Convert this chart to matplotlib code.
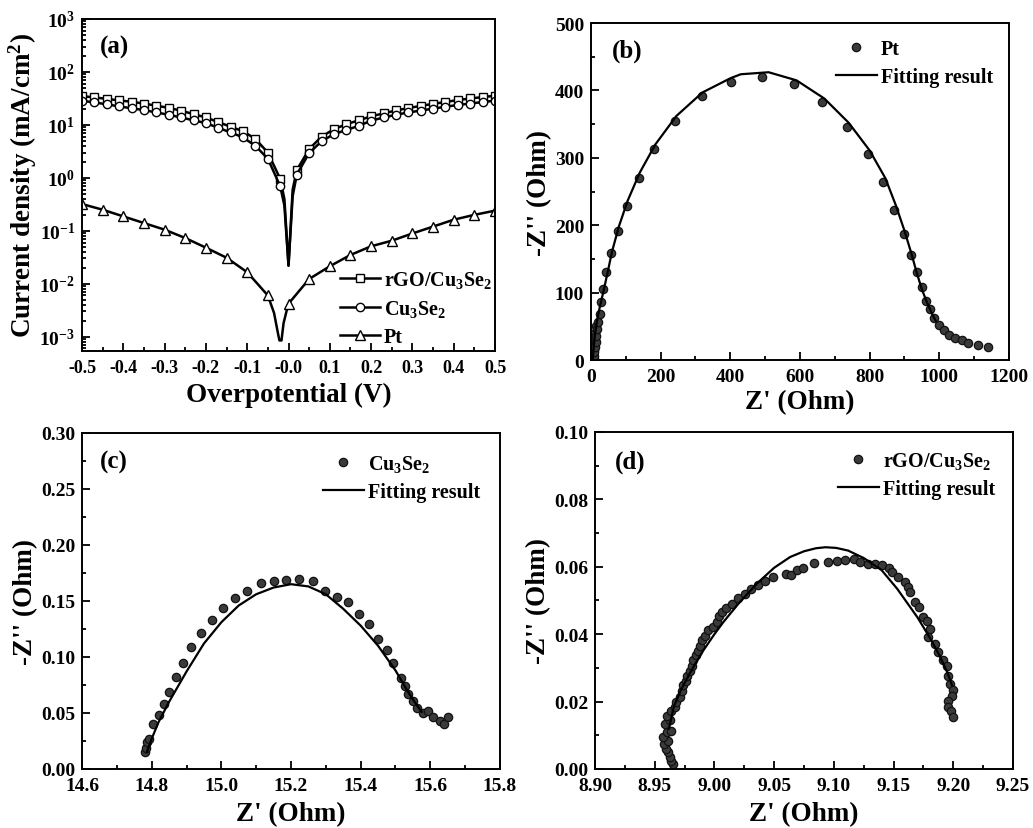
import numpy as np
import matplotlib
matplotlib.use('Agg')
import matplotlib.pyplot as plt
from matplotlib.ticker import MultipleLocator, LogLocator, NullFormatter

plt.rcParams['font.family'] = 'Liberation Serif'
plt.rcParams['font.weight'] = 'bold'
plt.rcParams['mathtext.fontset'] = 'custom'
plt.rcParams['mathtext.rm'] = 'Liberation Serif:bold'
plt.rcParams['mathtext.bf'] = 'Liberation Serif:bold'
plt.rcParams['mathtext.it'] = 'Liberation Serif:bold:italic'
plt.rcParams['axes.linewidth'] = 1.4

# ---------------- (a) Tafel curves ----------------
v_upper = [-0.50, -0.47, -0.44, -0.41, -0.38, -0.35, -0.32, -0.29, -0.26, -0.23,
           -0.20, -0.17, -0.14, -0.11, -0.08, -0.05, -0.02, -0.01, 0.0, 0.01,
           0.02, 0.05, 0.08, 0.11, 0.14, 0.17, 0.20, 0.23, 0.26, 0.29,
           0.32, 0.35, 0.38, 0.41, 0.44, 0.47, 0.50]
j_rgo = [35, 33, 31, 29, 27.3, 25.3, 23, 21, 18.5, 16,
         13.8, 11.3, 9.2, 7.6, 5.4, 3.0, 0.95, 0.4, 0.022, 0.6,
         1.4, 3.5, 6.0, 8.3, 10.3, 12.2, 14.5, 16.5, 18.7, 20.8,
         22.8, 25, 27, 29.5, 31.5, 33.5, 35.5]
j_cu = [28.6, 26.5, 24.5, 22.3, 20.6, 19, 17.2, 15.5, 13.8, 12.2,
        10.8, 8.8, 7.2, 5.8, 4.0, 2.3, 0.69, 0.3, 0.022, 0.45,
        1.15, 2.95, 4.9, 6.7, 8.0, 9.6, 12, 13.8, 15.5, 17.2,
        18.6, 20.3, 22, 23.8, 25.3, 27, 28.6]
upper_marks = [i for i in range(len(v_upper)) if v_upper[i] not in (-0.01, 0.0, 0.01)]

v_pt = [-0.50, -0.45, -0.40, -0.35, -0.30, -0.25, -0.20, -0.15, -0.10, -0.05,
        -0.035, -0.025, -0.022, -0.017, -0.012, -0.005, 0.0, 0.05, 0.10, 0.15,
        0.20, 0.25, 0.30, 0.35, 0.40, 0.45, 0.50]
j_pt = [0.32, 0.25, 0.187, 0.14, 0.105, 0.073, 0.048, 0.031, 0.0165, 0.006,
        0.0028, 0.0011, 0.00085, 0.00085, 0.0018, 0.003, 0.0042, 0.0123, 0.0214, 0.035,
        0.051, 0.065, 0.089, 0.12, 0.162, 0.2, 0.24]
pt_marks = [i for i in range(len(v_pt)) if v_pt[i] not in (-0.035, -0.025, -0.022, -0.017, -0.012, -0.005)]

# ---------------- (b) Pt Nyquist ----------------
zr_pt = [6, 7, 8.6, 8.6, 9, 10, 10, 11.5, 12, 12, 13, 14, 15, 17, 20, 25.8, 28.7, 34.5, 43, 57,
         76.6, 102, 138, 182, 242, 318, 402, 492, 583, 664, 734, 794, 839, 871, 899,
         920, 937, 949, 962, 973, 986, 1000, 1013, 1029, 1045, 1064, 1083, 1112, 1141]
zi_pt = [3, 9, 1.5, 6, 15, 12, 22, 19, 30, 40, 27, 36, 50, 46, 56, 68, 86, 105, 130, 159,
         191, 229, 270, 313, 355, 392, 412, 420, 410, 383, 346, 306, 264, 223, 187,
         156, 130, 108, 88, 76, 62, 52, 45, 37, 32, 29, 26, 22, 19]
fit_zr_pt = [5, 8, 12, 18, 25, 35, 47, 60, 80, 105, 140, 185, 245, 320, 400, 430, 510, 590,
             670, 740, 800, 845, 875, 900, 920, 935, 950, 965, 980, 990]
fit_zi_pt = [0, 20, 40, 60, 78, 100, 128, 160, 198, 236, 278, 320, 362, 397, 418, 424, 427, 415,
             388, 352, 311, 270, 230, 192, 158, 130, 105, 85, 68, 58]

# ---------------- (c) Cu3Se2 Nyquist ----------------
zr_cu = [14.782, 14.784, 14.786, 14.791, 14.803, 14.82, 14.834, 14.849, 14.870, 14.889,
         14.914, 14.942, 14.973, 15.006, 15.04, 15.075, 15.113, 15.15, 15.186, 15.224,
         15.262, 15.298, 15.331, 15.365, 15.396, 15.424, 15.449, 15.475, 15.492, 15.516,
         15.527, 15.537, 15.551, 15.561, 15.580, 15.594, 15.608, 15.627, 15.639, 15.652]
zi_cu = [0.0149, 0.019, 0.024, 0.027, 0.040, 0.048, 0.058, 0.0685, 0.082, 0.095,
         0.109, 0.121, 0.133, 0.144, 0.1525, 0.159, 0.166, 0.168, 0.169, 0.170,
         0.168, 0.1585, 0.1534, 0.1495, 0.138, 0.129, 0.116, 0.1066, 0.0947, 0.081,
         0.0745, 0.067, 0.061, 0.054, 0.050, 0.052, 0.046, 0.043, 0.040, 0.046]
fit_zr_cu = [14.786, 14.80, 14.82, 14.85, 14.90, 14.95, 15.00, 15.05, 15.10, 15.15,
             15.20, 15.25, 15.30, 15.35, 15.40, 15.45, 15.50, 15.53, 15.55, 15.575]
fit_zi_cu = [0.015, 0.027, 0.042, 0.060, 0.087, 0.112, 0.131, 0.146, 0.156, 0.162,
             0.165, 0.163, 0.156, 0.143, 0.128, 0.110, 0.088, 0.072, 0.062, 0.051]

# ---------------- (d) rGO/Cu3Se2 Nyquist ----------------
zr_rgo = [8.9656, 8.964, 8.963, 8.9615, 8.9595, 8.958, 8.9615, 8.957, 8.960, 8.964,
          8.959, 8.963, 8.960, 8.964, 8.967, 8.968, 8.971, 8.9726, 8.974, 8.976,
          8.977, 8.9796, 8.981, 8.982, 8.9846, 8.9866, 8.988, 8.9894, 8.992, 8.995,
          8.9986, 9.002, 9.004, 9.006, 9.010, 9.0145, 9.020, 9.0257, 9.031, 9.0368,
          9.0425, 9.049, 9.060, 9.064, 9.069, 9.0745, 9.083, 9.0955, 9.1025, 9.1095,
          9.1165, 9.122, 9.129, 9.1346, 9.140, 9.1458, 9.149, 9.154, 9.16, 9.1625,
          9.164, 9.168, 9.171, 9.175, 9.178, 9.1806, 9.179, 9.185, 9.187, 9.1915,
          9.1946, 9.1957, 9.197, 9.1997, 9.199, 9.1955, 9.1957, 9.1985, 9.1997]
zi_rgo = [0.0015, 0.0025, 0.0035, 0.0051, 0.0059, 0.0074, 0.0084, 0.0094, 0.0109, 0.0114,
          0.0134, 0.0144, 0.0158, 0.0173, 0.0183, 0.0198, 0.0213, 0.023, 0.0248, 0.0262,
          0.0277, 0.0292, 0.0307, 0.0322, 0.0337, 0.0351, 0.0366, 0.0384, 0.0396, 0.0411,
          0.0421, 0.0436, 0.0455, 0.0467, 0.0477, 0.049, 0.0507, 0.052, 0.0535, 0.0547,
          0.0559, 0.0569, 0.0579, 0.0575, 0.0589, 0.0596, 0.0612, 0.0614, 0.0616, 0.0619,
          0.0622, 0.0614, 0.0609, 0.0609, 0.0604, 0.0596, 0.0584, 0.0569, 0.0556, 0.054,
          0.0525, 0.0495, 0.048, 0.045, 0.0438, 0.0416, 0.0391, 0.0371, 0.0347, 0.0322,
          0.0307, 0.0277, 0.0252, 0.0233, 0.0218, 0.0203, 0.0183, 0.0173, 0.0153]
fit_zr_rgo = [8.962, 8.966, 8.972, 8.980, 8.990, 9.000, 9.0075, 9.020, 9.0355, 9.050,
              9.0634, 9.075, 9.085, 9.093, 9.102, 9.112, 9.125, 9.14, 9.153, 9.162,
              9.17, 9.181, 9.188, 9.195, 9.199]
fit_zi_rgo = [0.012, 0.0185, 0.0235, 0.0288, 0.0348, 0.040, 0.0436, 0.0490, 0.0550, 0.0597,
              0.0629, 0.0646, 0.0655, 0.0658, 0.0656, 0.0648, 0.0626, 0.059, 0.0535, 0.049,
              0.045, 0.0386, 0.034, 0.0287, 0.0248]

TICK_FS = 14
LABEL_FS = 19.5
LEG_FS = 14.5
PANEL_FS = 18
dot = dict(marker='o', ls='none', ms=6, mfc='#3a3a3a', mec='#111111', mew=0.9)
leg_kw = dict(frameon=False, fontsize=LEG_FS, handlelength=2.0, handletextpad=0.2,
              labelspacing=0.4)


def style(ax):
    ax.tick_params(which='both', direction='in', top=False, right=False,
                   labelsize=TICK_FS, width=1.3)
    ax.tick_params(which='major', length=6)
    ax.tick_params(which='minor', length=3)
    ax.tick_params(axis='x', pad=6)
    ax.tick_params(axis='y', pad=5)
    for lab in ax.get_xticklabels() + ax.get_yticklabels():
        lab.set_fontweight('bold')


def labels(ax, xl, yl, xpad=5, ypad=2):
    ax.set_xlabel(xl, fontsize=LABEL_FS, fontweight='bold', labelpad=xpad)
    ax.set_ylabel(yl, fontsize=LABEL_FS, fontweight='bold', labelpad=ypad)


fig = plt.figure(figsize=(10.33, 8.29), dpi=100)

# (a)
ax = fig.add_axes([0.0794, 0.5754, 0.3998, 0.4005])
ax.plot(v_upper, j_rgo, color='black', lw=1.8, marker='s', ms=6, mfc='white', mec='black',
        mew=1.0, markevery=upper_marks, label='rGO/Cu$_3$Se$_2$')
ax.plot(v_upper, j_cu, color='black', lw=1.8, marker='o', ms=6, mfc='white', mec='black',
        mew=1.0, markevery=upper_marks, label='Cu$_3$Se$_2$')
ax.plot(v_pt, j_pt, color='black', lw=1.8, marker='^', ms=6.5, mfc='white', mec='black',
        mew=1.0, markevery=pt_marks, label='Pt')
ax.set_yscale('log')
ax.set_xlim(-0.5, 0.5)
ax.set_ylim(10**-3.27, 1e3)
ax.xaxis.set_minor_locator(MultipleLocator(0.05))
ax.set_xticks(np.arange(-0.5, 0.51, 0.1))
ax.set_xticklabels(['%.1f' % t for t in np.arange(-0.5, 0.51, 0.1)])
ax.yaxis.set_major_locator(LogLocator(base=10, numticks=10))
ax.yaxis.set_minor_locator(LogLocator(base=10, subs=np.arange(2, 10), numticks=20))
ax.yaxis.set_minor_formatter(NullFormatter())
style(ax)
ax.tick_params(axis='x', labelsize=13)
labels(ax, 'Overpotential (V)', 'Current density (mA/cm$^2$)', xpad=4, ypad=0)
ax.text(0.044, 0.918, '(a)', transform=ax.transAxes, fontsize=PANEL_FS, fontweight='bold',
        ha='left', va='center')
ax.legend(loc='lower right', bbox_to_anchor=(1.012, -0.012), borderaxespad=0.0, **leg_kw)

# (b)
ax = fig.add_axes([0.5721, 0.5645, 0.4046, 0.4065])
ax.plot(zr_pt, zi_pt, label='Pt', **dot)
ax.plot(fit_zr_pt, fit_zi_pt, color='black', lw=1.6, label='Fitting result')
ax.set_xlim(0, 1200)
ax.set_ylim(0, 500)
ax.xaxis.set_major_locator(MultipleLocator(200))
ax.xaxis.set_minor_locator(MultipleLocator(100))
ax.yaxis.set_major_locator(MultipleLocator(100))
ax.yaxis.set_minor_locator(MultipleLocator(50))
style(ax)
labels(ax, "Z' (Ohm)", "-Z'' (Ohm)", xpad=3)
ax.text(0.05, 0.92, '(b)', transform=ax.transAxes, fontsize=PANEL_FS, fontweight='bold',
        ha='left', va='center')
ax.legend(loc='upper right', borderaxespad=0.4, **leg_kw)

# (c)
ax = fig.add_axes([0.0794, 0.0712, 0.4046, 0.4053])
ax.plot(zr_cu, zi_cu, label='Cu$_3$Se$_2$', **dot)
ax.plot(fit_zr_cu, fit_zi_cu, color='black', lw=1.6, label='Fitting result')
ax.set_xlim(14.6, 15.8)
ax.set_ylim(0, 0.30)
ax.xaxis.set_major_locator(MultipleLocator(0.2))
ax.xaxis.set_minor_locator(MultipleLocator(0.1))
ax.yaxis.set_major_locator(MultipleLocator(0.05))
ax.yaxis.set_minor_locator(MultipleLocator(0.025))
ax.xaxis.set_major_formatter(plt.FormatStrFormatter('%.1f'))
ax.yaxis.set_major_formatter(plt.FormatStrFormatter('%.2f'))
style(ax)
labels(ax, "Z' (Ohm)", "-Z'' (Ohm)")
ax.text(0.043, 0.914, '(c)', transform=ax.transAxes, fontsize=PANEL_FS, fontweight='bold',
        ha='left', va='center')
ax.legend(loc='upper right', borderaxespad=0.6, **leg_kw)

# (d)
ax = fig.add_axes([0.576, 0.0712, 0.4046, 0.4065])
ax.plot(zr_rgo, zi_rgo, label='rGO/Cu$_3$Se$_2$', **dot)
ax.plot(fit_zr_rgo, fit_zi_rgo, color='black', lw=1.6, label='Fitting result')
ax.set_xlim(8.90, 9.25)
ax.set_ylim(0, 0.10)
ax.xaxis.set_major_locator(MultipleLocator(0.05))
ax.xaxis.set_minor_locator(MultipleLocator(0.025))
ax.yaxis.set_major_locator(MultipleLocator(0.02))
ax.yaxis.set_minor_locator(MultipleLocator(0.01))
ax.xaxis.set_major_formatter(plt.FormatStrFormatter('%.2f'))
ax.yaxis.set_major_formatter(plt.FormatStrFormatter('%.2f'))
style(ax)
labels(ax, "Z' (Ohm)", "-Z'' (Ohm)")
ax.text(0.048, 0.914, '(d)', transform=ax.transAxes, fontsize=PANEL_FS, fontweight='bold',
        ha='left', va='center')
ax.legend(loc='upper right', borderaxespad=0.5, **leg_kw)

fig.savefig('out.png', dpi=100, facecolor='white')
